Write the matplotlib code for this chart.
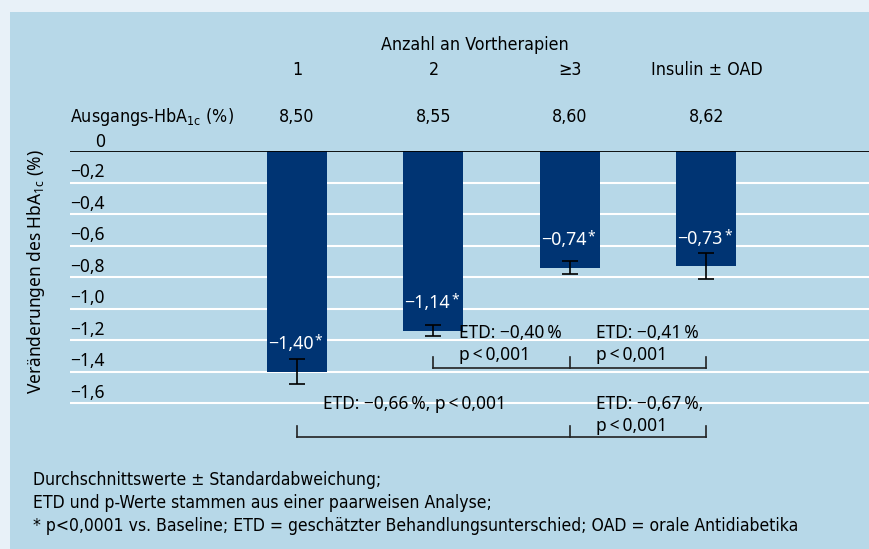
import matplotlib
matplotlib.use("Agg")
import matplotlib.pyplot as plt
from matplotlib.patches import Rectangle

# data
categories = ["1", "2", "\u22653", "Insulin \u00b1 OAD"]
baseline_hba1c = ["8,50", "8,55", "8,60", "8,62"]
change = [-1.40, -1.14, -0.74, -0.73]
sd = [0.077, 0.037, 0.039, 0.085]
yticks = [-0.2, -0.4, -0.6, -0.8, -1.0, -1.2, -1.4, -1.6]

# ETD comparisons: (from, to, label lines)
etd_upper = [(1, 2, ["ETD: \u22120,40\u2009%", "p\u2009<\u20090,001"]),
             (2, 3, ["ETD: \u22120,41\u2009%", "p\u2009<\u20090,001"])]
etd_lower = [(0, 2, ["ETD: \u22120,66\u2009%, p\u2009<\u20090,001"]),
             (2, 3, ["ETD: \u22120,67\u2009%,", "p\u2009<\u20090,001"])]

footnotes = [
    "Durchschnittswerte \u00b1 Standardabweichung;",
    "ETD und p-Werte stammen aus einer paarweisen Analyse;",
    "* p<0,0001 vs. Baseline; ETD = gesch\u00e4tzter Behandlungsunterschied; OAD = orale Antidiabetika",
]

OUTER = "#e8f1f8"
PANEL = "#b7d8e8"
NAVY = "#003473"
REG = "Noto Sans"

W, H = 870, 549
fig = plt.figure(figsize=(W / 100, H / 100), dpi=100, facecolor=OUTER)
fig.add_artist(Rectangle((10 / W, 0), 1, 1 - 12 / H, transform=fig.transFigure,
                         facecolor=PANEL, edgecolor="none", zorder=-5))

# axes: left at x=70px, top (y=0) at 151px, 157.5 px per unit
top_px, bot_px = 151, 445
ax = fig.add_axes([70 / W, 1 - bot_px / H, 1 - 70 / W, (bot_px - top_px) / H])
ax.set_facecolor("none")
ax.set_ylim(-(bot_px - top_px) / 157.5, 0)
ax.set_xlim(-227 / 136.5, 573 / 136.5)
for s in ax.spines.values():
    s.set_visible(False)
ax.set_xticks([])
ax.set_yticks([])


def py(p):
    return -(p - top_px) / 157.5


def fmt(v):
    return f"{v:.2f}".replace(".", ",").replace("-", "\u2212")


trans = ax.get_yaxis_transform()
for t in yticks:
    ax.axhline(t, color="white", lw=1.5, zorder=1)
    ax.text(0, t + 0.008, f"{t:.1f}".replace(".", ",").replace("-", "\u2212"), transform=trans,
            ha="left", va="bottom", fontsize=12.5, family=REG)
ax.axhline(0, color="black", lw=1.3, zorder=3)
ax.text(30 / 800, 0.0, "0", transform=trans, ha="center", va="bottom", fontsize=12.5, family=REG)

x = list(range(len(categories)))
ax.bar(x, change, width=60 / 136.5, color=NAVY, zorder=2)
ax.errorbar(x, change, yerr=sd, fmt="none", ecolor="black", elinewidth=1.2,
            capsize=5.8, capthick=1.2, zorder=4)

for i, v in enumerate(change):
    ax.annotate(fmt(v), (i, v), xytext=(-4.7, 19.5), textcoords="offset points",
                ha="center", va="center", color="white", fontsize=12.8, family=REG)
    ax.annotate("*", (i, v), xytext=(15.3, 22), textcoords="offset points",
                ha="center", va="center", color="white", fontsize=10, family=REG)

# header
nk = dict(family="DejaVu Sans", fontstretch="condensed", fontsize=12.8)
ax.text(1.3, py(45), "Anzahl an Vortherapien", ha="center", va="center", **nk)
for i, c in enumerate(categories):
    ax.text(i, py(70), c, ha="center", va="center", **nk)
    ax.text(i, py(117), baseline_hba1c[i], ha="center", va="center", **nk)
ax.text(0, py(117), "Ausgangs-HbA$_{\\mathregular{1c}}$ (%)", transform=trans,
        ha="left", va="center", **nk)

# ETD brackets
for brackets, yline, ytick, ytext in [(etd_upper, 367.7, 357, [333, 355]),
                                       (etd_lower, 437, 425.5, [404, 426])]:
    xs = sorted({b for a, b, _ in brackets} | {a for a, b, _ in brackets})
    ax.plot([xs[0], xs[-1]], [py(yline)] * 2, color="#222222", lw=1.2, zorder=3)
    for xv in xs:
        ax.plot([xv, xv], [py(yline), py(ytick)], color="#222222", lw=1.2, zorder=3)
    for a, b, lines in brackets:
        for k, line in enumerate(lines):
            ax.text(a + 0.19, py(ytext[k]), line, ha="left", va="center", fontsize=12.5, family=REG)

fig.text(36 / W, 1 - 272 / H, "Ver\u00e4nderungen des HbA$_{\\mathregular{1c}}$ (%)",
         rotation=90, ha="center", va="center", fontsize=12.5, family=REG)

fn = dict(nk, fontsize=12.6)
for k, line in enumerate(footnotes):
    fig.text(33 / W, 1 - (480 + 23 * k) / H, line, ha="left", va="center", **fn)

fig.savefig("out.png", dpi=100, facecolor=OUTER)
